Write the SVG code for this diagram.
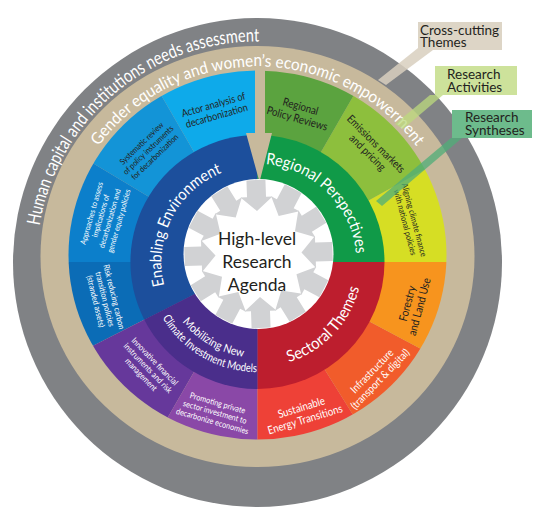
<svg xmlns="http://www.w3.org/2000/svg" width="540" height="517" viewBox="0 0 540 517">
<style>
text{font-family:Lato,"Open Sans","Liberation Sans",sans-serif}
.w{fill:#fff}
.d{fill:#231f20}
.arrow{fill:#d1d2d4}
.band{stroke:none}
.lg{font-size:13.5px;fill:#231f20}
.theme{font-size:16px;fill:#fff}
</style>
<defs>
<clipPath id="actClip"><ellipse cx="257.5" cy="255" rx="189" ry="184.5"/></clipPath>
<path id="arr" d="M74,-9.5 L57,-9.5 L57,-16 L43,0 L57,16 L57,9.5 L74,9.5 Z"/>
<path id="pGray" d="M66.1,373 A221,221 0 0 1 399.6,93.2"/>
<path id="pTan" d="M62.5,256.5 A195,190 0 0 1 452.5,256.5"/>
<path id="pEnab" d="M199.7,338.7 A96,96 0 0 1 285.6,170.2"/>
<path id="pReg" d="M205.1,178.9 A99,99 0 0 1 342.0,314.5"/>
<path id="pSect" d="M199.6,349.6 A105,105 0 0 0 341.9,199.5"/>
<path id="pMob1" d="M167.3,229.2 A96,96 0 0 0 331,323.7"/>
<path id="pMob2" d="M154.1,224.4 A110,110 0 0 0 341.8,332.7"/>
</defs>

<g id="ring-human-capital">
<circle cx="257.5" cy="262.5" r="244.5" fill="#808285"/>
<text class="w" font-size="18.5"><textPath href="#pGray" startOffset="50%" text-anchor="middle" textLength="312" lengthAdjust="spacingAndGlyphs">Human capital and institutions needs assessment</textPath></text>
</g>

<g id="ring-gender">
<ellipse cx="257.5" cy="256.5" rx="217" ry="210.5" fill="#c7b99c"/>
<text class="w" font-size="16.5"><textPath href="#pTan" startOffset="50%" text-anchor="middle" textLength="369" lengthAdjust="spacingAndGlyphs">Gender equality and women’s economic empowerment</textPath></text>
</g>

<g id="activities" clip-path="url(#actClip)">
<polygon id="act-actor" points="257.5,262 107.5,2.2 257.5,-38" fill="#0eaaea"/>
<polygon id="act-systematic" points="257.5,262 0.3,107.5 107.5,2.2" fill="#1394d7"/>
<polygon id="act-approaches" points="257.5,262 -42.5,262 0.3,107.5" fill="#0c7fcb"/>
<polygon id="act-risk" points="257.5,262 -9.8,398.2 -42.5,262" fill="#0b6cb6"/>
<polygon id="act-innovative" points="257.5,262 107.5,521.8 -9.8,398.2" fill="#66389b"/>
<polygon id="act-promoting" points="257.5,262 257.5,562 107.5,521.8" fill="#8a48a7"/>
<polygon id="act-sustainable" points="257.5,262 416.5,516.4 257.5,562" fill="#ee4137"/>
<polygon id="act-infrastructure" points="257.5,262 522.4,402.8 416.5,516.4" fill="#f15c2b"/>
<polygon id="act-forestry" points="257.5,262 557.5,262 522.4,402.8" fill="#f7941e"/>
<polygon id="act-aligning" points="257.5,262 519.9,116.6 557.5,262" fill="#d6de24"/>
<polygon id="act-emissions" points="257.5,262 407.5,2.2 519.9,116.6" fill="#8dbf3d"/>
<polygon id="act-regional-policy" points="257.5,262 257.5,-38 407.5,2.2" fill="#5ba33f"/>
</g>

<g id="themes">
<path id="theme-enabling" d="M257.5,262 L144.3,319.7 A127,127 0 0 1 257.5,135 Z" fill="#1c4f9c"/>
<path id="theme-regional" d="M257.5,262 L257.5,135 A127,127 0 0 1 384.5,262 Z" fill="#109a48"/>
<path id="theme-sectoral" d="M257.5,262 L384.5,262 A127,127 0 0 1 257.5,389 Z" fill="#bd1e2e"/>
<path id="theme-mobilizing" d="M257.5,262 L257.5,389 A127,127 0 0 1 144.3,319.7 Z" fill="#4a2e8b"/>
<polygon id="gap" points="255,66 265,66 265,133 272,133 259.5,182 246,133 255,133" fill="#c7b99c"/>
</g>

<g id="center">
<circle cx="258.5" cy="254" r="75" fill="#fff"/>
<g class="arrow">
<use href="#arr" transform="translate(258.5,254) rotate(-2)"/>
<use href="#arr" transform="translate(258.5,254) rotate(28)"/>
<use href="#arr" transform="translate(258.5,254) rotate(58)"/>
<use href="#arr" transform="translate(258.5,254) rotate(88)"/>
<use href="#arr" transform="translate(258.5,254) rotate(118)"/>
<use href="#arr" transform="translate(258.5,254) rotate(148)"/>
<use href="#arr" transform="translate(258.5,254) rotate(178)"/>
<use href="#arr" transform="translate(258.5,254) rotate(208)"/>
<use href="#arr" transform="translate(258.5,254) rotate(238)"/>
<use href="#arr" transform="translate(258.5,254) rotate(268)"/>
<use href="#arr" transform="translate(258.5,254) rotate(298)"/>
<use href="#arr" transform="translate(258.5,254) rotate(328)"/>
</g>
<text class="d" font-size="17.5" text-anchor="middle"><tspan x="257" y="245">High-level</tspan><tspan x="257" y="268">Research</tspan><tspan x="257" y="291">Agenda</tspan></text>
</g>

<g id="theme-labels">
<text class="theme"><textPath href="#pEnab" startOffset="50%" text-anchor="middle" textLength="138" lengthAdjust="spacingAndGlyphs">Enabling Environment</textPath></text>
<text class="theme"><textPath href="#pReg" startOffset="50%" text-anchor="middle" textLength="138" lengthAdjust="spacingAndGlyphs">Regional Perspectives</textPath></text>
<text class="theme"><textPath href="#pSect" startOffset="50%" text-anchor="middle" textLength="107" lengthAdjust="spacingAndGlyphs">Sectoral Themes</textPath></text>
<text class="w" font-size="11.5"><textPath href="#pMob1" startOffset="50%" text-anchor="middle" textLength="72" lengthAdjust="spacingAndGlyphs">Mobilizing New</textPath></text>
<text class="w" font-size="11.5"><textPath href="#pMob2" startOffset="50%" text-anchor="middle" textLength="114" lengthAdjust="spacingAndGlyphs">Climate Investment Models</textPath></text>
</g>

<g id="activity-labels" text-anchor="middle">
<text class="d" font-size="10.5" transform="translate(215,110) rotate(-16) scale(0.87,1)"><tspan x="0" y="-2">Actor analysis of</tspan><tspan x="0" y="9.5">decarbonization</tspan></text>
<text class="d" font-size="8.3" transform="translate(148,150) rotate(-44) scale(0.87,1)"><tspan x="0" y="-6.5">Systematic review</tspan><tspan x="0" y="3">of policy instruments</tspan><tspan x="0" y="12.5">for decarbonization</tspan></text>
<text class="w" font-size="7.9" transform="translate(105,217) rotate(-74) scale(0.87,1)"><tspan x="0" y="-11.2">Approaches to assess</tspan><tspan x="0" y="-1.7">implications of</tspan><tspan x="0" y="7.8">decarbonization and</tspan><tspan x="0" y="17.3">gender equity policies</tspan></text>
<text class="w" font-size="8.4" transform="translate(105,299) rotate(76) scale(0.87,1)"><tspan x="0" y="-6.5">Risk reducing carbon</tspan><tspan x="0" y="3">transition policies</tspan><tspan x="0" y="12.5">(stranded assets)</tspan></text>
<text class="w" font-size="8.5" transform="translate(148,368) rotate(46) scale(0.87,1)"><tspan x="0" y="-6.5">Innovative financial</tspan><tspan x="0" y="3">instruments and risk</tspan><tspan x="0" y="12.5">management</tspan></text>
<text class="w" font-size="8.4" transform="translate(215,412) rotate(16) scale(0.87,1)"><tspan x="0" y="-6.5">Promoting private</tspan><tspan x="0" y="3">sector investment to</tspan><tspan x="0" y="12.5">decarbonize economies</tspan></text>
<text class="w" font-size="11.2" transform="translate(303,413) rotate(-17) scale(0.87,1)"><tspan x="0" y="-2">Sustainable</tspan><tspan x="0" y="10.5">Energy Transitions</tspan></text>
<text class="w" font-size="10.8" transform="translate(376,375) rotate(-46) scale(0.87,1)"><tspan x="0" y="-2">Infrastructure</tspan><tspan x="0" y="9.5">(transport &amp; digital)</tspan></text>
<text class="d" font-size="11.5" transform="translate(413,305) rotate(-75) scale(0.87,1)"><tspan x="0" y="-2">Forestry</tspan><tspan x="0" y="10.5">and Land Use</tspan></text>
<text class="d" font-size="8.4" transform="translate(410,221) rotate(75) scale(0.87,1)"><tspan x="0" y="-1.5">Aligning climate finance</tspan><tspan x="0" y="8">with national policies</tspan></text>
<text class="d" font-size="11" transform="translate(372,148) rotate(45) scale(0.87,1)"><tspan x="0" y="-2">Emissions markets</tspan><tspan x="0" y="10">and pricing</tspan></text>
<text class="d" font-size="11.2" transform="translate(299,112) rotate(16) scale(0.87,1)"><tspan x="0" y="-2">Regional</tspan><tspan x="0" y="10.5">Policy Reviews</tspan></text>
</g>

<g id="connectors">
<polygon class="band" points="418,48 433,50 386,85 378,80" fill="#d8cfbe" opacity="0.85"/>
<polygon class="band" points="430,95 443,95 403,129 395,124" fill="#bcd97e" opacity="0.75"/>
<polygon class="band" points="451,138 462,138 382,206 376,201" fill="#4fae78" opacity="0.75"/>
</g>

<g id="legend-cross-cutting">
<rect x="418" y="22" width="84" height="28" fill="#ddd5c6"/>
<text class="lg"><tspan x="420" y="34.5">Cross-cutting</tspan><tspan x="420" y="47">Themes</tspan></text>
</g>
<g id="legend-activities">
<rect x="435" y="66" width="82" height="29" fill="#cde29b"/>
<text class="lg"><tspan x="447" y="79">Research</tspan><tspan x="447" y="92">Activities</tspan></text>
</g>
<g id="legend-syntheses">
<rect x="452" y="110" width="80" height="28" fill="#6dbb8c"/>
<text class="lg"><tspan x="465" y="122">Research</tspan><tspan x="465" y="135">Syntheses</tspan></text>
</g>
</svg>
